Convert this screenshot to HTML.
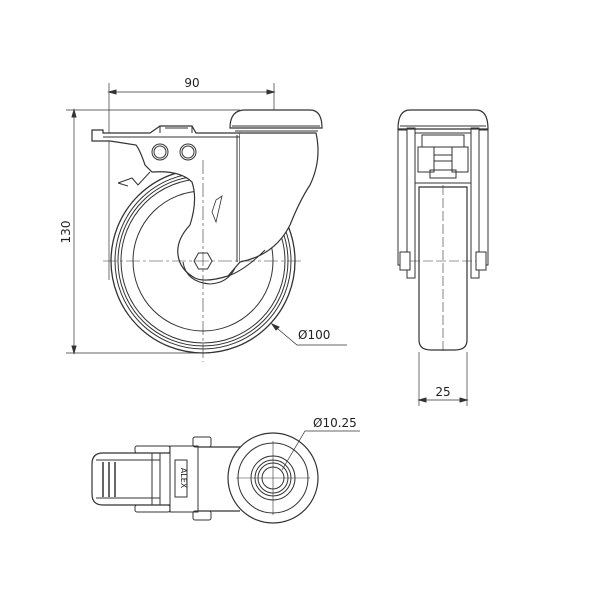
<!DOCTYPE html>
<html><head><meta charset="utf-8"><style>
html,body{margin:0;padding:0;background:#fff;}
svg{display:block;}
text{font-family:"DejaVu Sans","Liberation Sans",sans-serif;fill:#222;}
</style></head><body>
<svg width="600" height="600" viewBox="0 0 600 600" xmlns="http://www.w3.org/2000/svg">
<g fill="none" stroke="#333" stroke-width="1">
<!-- dims front -->
<line x1="109" y1="83" x2="109" y2="280" stroke-width="0.7"/>
<line x1="274" y1="83" x2="274" y2="124" stroke-width="0.7"/>
<line x1="109" y1="92" x2="274" y2="92" stroke-width="0.7"/>
<path d="M109 92l7-2v4zM274 92l-7-2v4z" fill="#333"/>
<line x1="66" y1="110" x2="240" y2="110" stroke-width="0.7"/>
<line x1="66" y1="353" x2="210" y2="353" stroke-width="0.7"/>
<line x1="74" y1="110" x2="74" y2="353" stroke-width="0.7"/>
<path d="M74 110l-2 7h4zM74 353l-2-7h4z" fill="#333"/>
<!-- wheel front -->
<circle cx="203" cy="261" r="92" stroke-width="1.3"/>
<circle cx="203" cy="261" r="88"/>
<circle cx="203" cy="261" r="85"/>
<circle cx="203" cy="261" r="82"/>
<circle cx="203" cy="261" r="70"/>
<!-- fork body (white fill covers wheel) -->
<path d="M92 130 L103 130 L103 133 L150 133 L160 126 L192 126 L196 133 L240 133 L240 262 L228 276 Q205 283 195 278 Q180 270 178 255 Q176 240 190 225 Q198 200 192 182 Q180 170 152 172 L145 165 Q140 150 136 145 L110 141 L92 141 Z" fill="#fff" stroke-width="1.2"/>
<path d="M240 133 L316 133 Q322 160 310 185 Q300 200 290 225 Q275 255 240 262" fill="#fff" stroke-width="1.2"/>
<path d="M228 276 Q245 270 265 250" />
<line x1="237" y1="135" x2="237" y2="262"/>
<line x1="103" y1="137" x2="240" y2="137"/>
<path d="M160 126 L160 133 M192 126 L192 133 M165 128 L188 128"/>
<path d="M230 128 Q230 110 245 110 L310 110 Q322 110 322 128 Z" fill="#fff" stroke-width="1.2"/>
<line x1="232" y1="126" x2="320" y2="126"/>
<line x1="235" y1="131" x2="318" y2="131"/>
<circle cx="160" cy="152" r="8"/><circle cx="160" cy="152" r="6"/>
<circle cx="188" cy="152" r="8"/><circle cx="188" cy="152" r="6"/>
<path d="M183 262 Q186 282 210 284 Q228 283 235 268" />
<polygon points="194,261 198.5,253 207.5,253 212,261 207.5,269 198.5,269" fill="#fff"/>
<path d="M118 183 L132 178 L138 185 L150 172 M128 186 L118 183"/>
<path d="M212 212 L216 200 L222 196 L216 222 Z" stroke-width="0.8"/>
<!-- center lines -->
<line x1="103" y1="261" x2="303" y2="261" stroke-width="0.6" stroke-dasharray="14 3 3 3"/>
<line x1="203" y1="160" x2="203" y2="362" stroke-width="0.6" stroke-dasharray="14 3 3 3"/>
<!-- Ø100 leader -->
<path d="M272 324 L297 345 L347 345" stroke-width="0.7"/>
<path d="M272 324l4 6 3-3z" fill="#333"/>

<!-- side view -->
<path d="M398 129 Q398 110 410 110 L476 110 Q488 110 488 129 Z" fill="#fff" stroke-width="1.2"/>
<line x1="400" y1="126" x2="486" y2="126"/>
<rect x="398" y="130" width="9" height="135"/>
<rect x="479" y="130" width="9" height="135"/>
<rect x="407" y="128" width="8" height="150"/>
<rect x="471" y="128" width="8" height="150"/>
<rect x="415" y="133" width="56" height="50"/>
<rect x="422" y="135" width="42" height="12"/>
<rect x="418" y="147" width="16" height="25"/><rect x="452" y="147" width="16" height="25"/>
<rect x="434" y="155" width="18" height="6"/>
<rect x="430" y="170" width="26" height="8"/>
<path d="M419 187 L467 187 L467 340 Q467 350 455 350 L431 350 Q419 350 419 340 Z" fill="#fff" stroke-width="1.2"/>
<rect x="400" y="252" width="10" height="18" fill="#fff"/>
<rect x="476" y="252" width="10" height="18" fill="#fff"/>
<line x1="443" y1="185" x2="443" y2="352" stroke-width="0.6" stroke-dasharray="10 3"/>
<line x1="410" y1="261" x2="476" y2="261" stroke-width="0.6" stroke-dasharray="10 3"/>
<line x1="419" y1="352" x2="419" y2="406" stroke-width="0.7"/>
<line x1="467" y1="352" x2="467" y2="406" stroke-width="0.7"/>
<line x1="419" y1="400" x2="467" y2="400" stroke-width="0.7"/>
<path d="M419 400l7-2v4zM467 400l-7-2v4z" fill="#333"/>

<!-- bottom view -->
<path d="M240 447 L170 447 L170 453 L103 453 Q92 453 92 464 L92 494 Q92 505 103 505 L170 505 L170 511 L240 511" fill="#fff" stroke-width="1.2"/>
<line x1="96" y1="460" x2="160" y2="460"/>
<line x1="96" y1="498" x2="160" y2="498"/>
<line x1="152" y1="453" x2="152" y2="505"/><line x1="160" y1="453" x2="160" y2="505"/>
<line x1="103" y1="462" x2="103" y2="497" stroke-width="1.5"/>
<line x1="109" y1="462" x2="109" y2="497" stroke-width="1.5"/>
<line x1="115" y1="462" x2="115" y2="497" stroke-width="1.5"/>
<rect x="170" y="446" width="28" height="66" fill="#fff"/>
<rect x="175" y="460" width="12" height="37"/>
<rect x="135" y="446" width="35" height="7" rx="2"/>
<rect x="135" y="505" width="35" height="7" rx="2"/>
<rect x="193" y="437" width="18" height="10" rx="2"/>
<rect x="193" y="511" width="18" height="9" rx="2"/>
<circle cx="273" cy="478" r="45" fill="#fff" stroke-width="1.2"/>
<circle cx="273" cy="478" r="35"/>
<circle cx="273" cy="478" r="22"/>
<circle cx="273" cy="478" r="18"/>
<circle cx="273" cy="478" r="15"/>
<circle cx="273" cy="478" r="11"/>
<line x1="236" y1="478" x2="310" y2="478" stroke-width="0.6"/>
<line x1="273" y1="441" x2="273" y2="515" stroke-width="0.6"/>
<path d="M282 470 L305 431 L360 431" stroke-width="0.7"/>
</g>
<text x="192" y="87" font-size="12" text-anchor="middle">90</text>
<text x="70" y="232" font-size="12" text-anchor="middle" transform="rotate(-90 70 232)">130</text>
<text x="298" y="339" font-size="12">Ø100</text>
<text x="443" y="396" font-size="12" text-anchor="middle">25</text>
<text x="313" y="427" font-size="12">Ø10.25</text>
<text x="181" y="478" font-size="8" text-anchor="middle" transform="rotate(90 181 478)">ALEX</text>
</svg>
</body></html>
